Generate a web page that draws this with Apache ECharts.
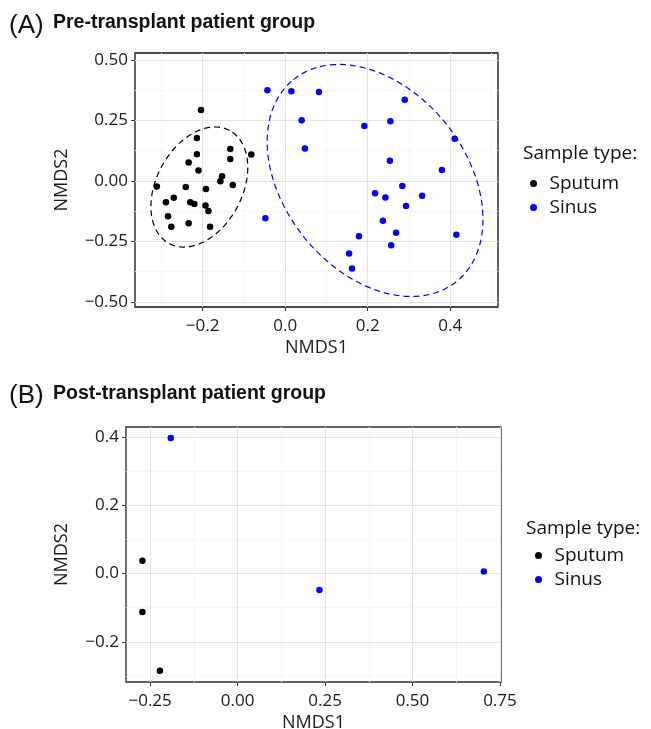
<!DOCTYPE html>
<html>
<head>
<meta charset="utf-8">
<title>NMDS sample type</title>
<script src="https://cdn.jsdelivr.net/npm/echarts@6/dist/echarts.min.js"></script>
<style>
    html, body { margin: 0; padding: 0; background: #fff; }
    #chart { width: 651px; height: 729px; }
</style>
</head>
<body>
<div id="chart"></div>
<script>
// (A) pre-transplant patient group, [NMDS1, NMDS2]
const preSputum = [
    [-0.204, 0.293], [-0.214, 0.178], [-0.214, 0.110], [-0.234, 0.076], [-0.210, 0.043],
    [-0.133, 0.132], [-0.133, 0.091], [-0.082, 0.109], [-0.153, 0.019], [-0.157, -0.001],
    [-0.127, -0.017], [-0.192, -0.033], [-0.241, -0.025], [-0.311, -0.023], [-0.270, -0.069],
    [-0.289, -0.088], [-0.230, -0.088], [-0.220, -0.095], [-0.193, -0.101], [-0.186, -0.124],
    [-0.284, -0.146], [-0.276, -0.189], [-0.234, -0.175], [-0.182, -0.189]
];
const preSinus = [
    [-0.043, 0.375], [0.015, 0.371], [0.082, 0.368], [0.290, 0.336], [0.040, 0.251],
    [0.192, 0.227], [0.255, 0.247], [0.411, 0.175], [0.048, 0.134], [0.254, 0.084],
    [0.380, 0.045], [0.284, -0.021], [0.218, -0.051], [0.243, -0.068], [0.332, -0.061],
    [0.293, -0.103], [-0.048, -0.154], [0.237, -0.164], [0.269, -0.214], [0.415, -0.222],
    [0.179, -0.229], [0.257, -0.266], [0.155, -0.300], [0.162, -0.362]
];

// (B) post-transplant patient group
const postSputum = [[-0.272, 0.038], [-0.272, -0.113], [-0.222, -0.285]];
const postSinus = [[-0.191, 0.398], [0.234, -0.048], [0.704, 0.006]];

// dashed 95% ellipses: centre and two conjugate half axes
const preSputumEllipse = { center: [-0.208, -0.025], a: [0.073, 0.234], b: [-0.092, 0.083] };
const preSinusEllipse = { center: [0.218, 0.002], a: [-0.198, 0.417], b: [0.171, 0.237] };

// axis ranges and tick values
const preXRange = [-0.364, 0.516];
const preYRange = [-0.521, 0.529];
const postXRange = [-0.319, 0.753];
const postYRange = [-0.318, 0.430];

const preXTicks = [-0.2, 0, 0.2, 0.4];
const preXMinor = [-0.3, -0.1, 0.1, 0.3, 0.5];
const preYTicks = [-0.5, -0.25, 0, 0.25, 0.5];
const preYMinor = [-0.375, -0.125, 0.125, 0.375];
const postXTicks = [-0.25, 0, 0.25, 0.5, 0.75];
const postXMinor = [-0.125, 0.125, 0.375, 0.625];
const postYTicks = [-0.2, 0, 0.2, 0.4];
const postYMinor = [-0.3, -0.1, 0.1, 0.3];

const legendNames = ['Sputum', 'Sinus'];

const FONT = '"Open Sans", "Noto Sans", sans-serif';
const TITLE_FONT = '"Liberation Sans", Arial, sans-serif';

function fmt(v, digits) {
    return (v < -1e-9 ? '\u2212' : '') + Math.abs(v).toFixed(digits);
}

function ellipsePoints(e) {
    let pts = [];
    for (let i = 0; i <= 120; i++) {
        const t = 2 * Math.PI * i / 120;
        pts.push([
            e.center[0] + e.a[0] * Math.cos(t) + e.b[0] * Math.sin(t),
            e.center[1] + e.a[1] * Math.cos(t) + e.b[1] * Math.sin(t)
        ]);
    }
    return pts;
}

function mainAxis(gridIndex, range, ticks, digits, isX, nameGap) {
    const step = ticks[1] - ticks[0];
    return {
        type: 'value',
        gridIndex: gridIndex,
        position: isX ? 'bottom' : 'left',
        min: range[0],
        max: range[1],
        minInterval: step,
        maxInterval: step,
        name: isX ? 'NMDS1' : 'NMDS2',
        nameLocation: 'middle',
        nameGap: nameGap,
        nameTextStyle: { fontFamily: FONT, fontSize: 18, color: '#1a1a1a' },
        axisLine: { show: false, onZero: false },
        axisTick: { show: true, length: 4, customValues: ticks, lineStyle: { color: '#333', width: 1 } },
        axisLabel: {
            customValues: ticks,
            margin: isX ? 11 : 7,
            fontFamily: FONT,
            fontSize: 17,
            color: '#1a1a1a',
            formatter: function (v) { return fmt(v, digits); }
        },
        splitLine: { show: true, lineStyle: { color: '#e4e4e4', width: 1 } }
    };
}

function minorAxis(gridIndex, range, ticks, isX) {
    const step = ticks[1] - ticks[0];
    return {
        type: 'value',
        gridIndex: gridIndex,
        position: isX ? 'top' : 'right',
        min: range[0],
        max: range[1],
        minInterval: step,
        maxInterval: step,
        axisLine: { show: false, onZero: false },
        axisTick: { show: false, customValues: ticks },
        axisLabel: { show: false, customValues: ticks },
        splitLine: { show: true, lineStyle: { color: '#ececec', width: 1, type: 'dotted' } }
    };
}

function dots(name, data, color, axisIndex) {
    return {
        name: name,
        type: 'scatter',
        xAxisIndex: axisIndex,
        yAxisIndex: axisIndex,
        data: data,
        symbolSize: 6.5,
        itemStyle: { color: color, opacity: 1 },
        z: 5
    };
}

function ring(name, e, color) {
    return {
        name: name,
        type: 'line',
        xAxisIndex: 0,
        yAxisIndex: 0,
        data: ellipsePoints(e),
        showSymbol: false,
        symbol: 'none',
        silent: true,
        lineStyle: { color: color, width: 1.2, type: [6, 4] },
        z: 3
    };
}

function legendAt(left, top) {
    return {
        data: legendNames,
        orient: 'vertical',
        left: left,
        top: top,
        icon: 'circle',
        itemWidth: 22,
        itemHeight: 7,
        itemGap: 5,
        itemStyle: { opacity: 1 },
        textStyle: { fontFamily: FONT, fontSize: 19, color: '#111', lineHeight: 18 },
        selectedMode: false
    };
}

const myChart = echarts.init(document.getElementById('chart'), null, { renderer: 'canvas' });

const option = {
    animation: false,
    backgroundColor: '#fff',
    graphic: [
        { type: 'text', x: 9, y: 26, style: { text: '(A)', font: '26px ' + TITLE_FONT, fill: '#111', verticalAlign: 'middle' } },
        { type: 'text', x: 53, y: 23, style: { text: 'Pre-transplant patient group', font: 'bold 19.5px ' + TITLE_FONT, fill: '#111', verticalAlign: 'middle' } },
        { type: 'text', x: 523, y: 154, style: { text: 'Sample type:', font: '19px ' + FONT, fill: '#111', verticalAlign: 'middle' } },
        { type: 'text', x: 9, y: 396, style: { text: '(B)', font: '26px ' + TITLE_FONT, fill: '#111', verticalAlign: 'middle' } },
        { type: 'text', x: 53, y: 394, style: { text: 'Post-transplant patient group', font: 'bold 19.5px ' + TITLE_FONT, fill: '#111', verticalAlign: 'middle' } },
        { type: 'text', x: 526, y: 529, style: { text: 'Sample type:', font: '19px ' + FONT, fill: '#111', verticalAlign: 'middle' } }
    ],
    legend: [legendAt(525, 169), legendAt(530, 541)],
    grid: [
        { left: 135, top: 53, width: 363, height: 254, show: true, borderColor: '#111', borderWidth: 1.3, outerBoundsMode: 'none' },
        { left: 126, top: 427, width: 375, height: 255, show: true, borderColor: '#333', borderWidth: 1.4, outerBoundsMode: 'none' }
    ],
    xAxis: [
        mainAxis(0, preXRange, preXTicks, 1, true, 32),
        minorAxis(0, preXRange, preXMinor, true),
        mainAxis(1, postXRange, postXTicks, 2, true, 32),
        minorAxis(1, postXRange, postXMinor, true)
    ],
    yAxis: [
        mainAxis(0, preYRange, preYTicks, 2, false, 64),
        minorAxis(0, preYRange, preYMinor, false),
        mainAxis(1, postYRange, postYTicks, 1, false, 55),
        minorAxis(1, postYRange, postYMinor, false)
    ],
    series: [
        ring('Sputum ellipse', preSputumEllipse, '#000'),
        ring('Sinus ellipse', preSinusEllipse, '#0000ff'),
        dots('Sputum', preSputum, '#000', 0),
        dots('Sinus', preSinus, '#0000ff', 0),
        dots('Sputum', postSputum, '#000', 2),
        dots('Sinus', postSinus, '#0000ff', 2)
    ]
};

myChart.setOption(option);
</script>
</body>
</html>
